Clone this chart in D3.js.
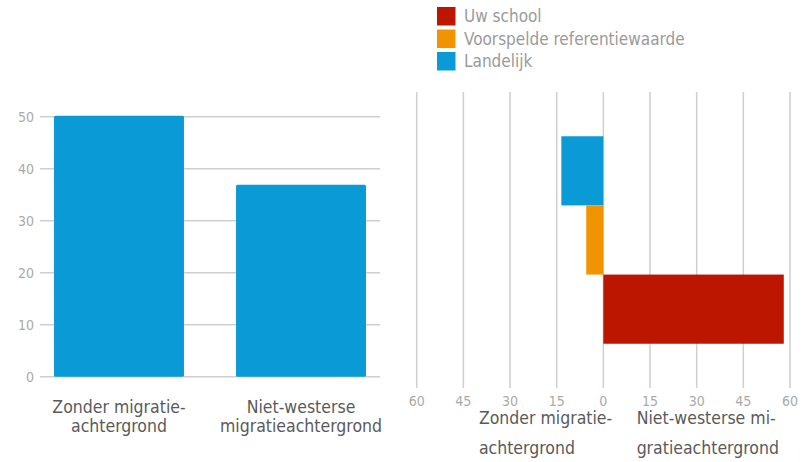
<!DOCTYPE html>
<html lang="nl">
<head>
<meta charset="UTF-8">
<title>Migratieachtergrond</title>
<script src="https://d3js.org/d3.v7.min.js"></script>
<style>
    body { margin: 0; background: #fff; }
    svg { font-family: "Liberation Sans Narrow", "DejaVu Sans Condensed", sans-serif; }
    .grid { stroke: #cfcfcf; stroke-width: 1.5px; }
    .tick-label { fill: #aaaaaa; font-size: 14px; }
    .cat-label { fill: #5a5a5a; font-size: 17.5px; }
    .legend-label { fill: #9a9a9a; font-size: 17px; }
</style>
</head>
<body>
<svg width="801" height="462"></svg>
<script>
    // left chart
    var leftCategories = [["Zonder migratie-", "achtergrond"], ["Niet-westerse", "migratieachtergrond"]];
    var leftValues = [50.2, 36.9];
    var leftTicks = [0, 10, 20, 30, 40, 50];

    // right chart
    var rightSeries = ["Landelijk", "Voorspelde referentiewaarde", "Uw school"];
    var rightValues = [-13.5, -5.5, 58];
    var rightColors = ["#0a9bd7", "#f29400", "#bd1600"];
    var rightTicks = [-60, -45, -30, -15, 0, 15, 30, 45, 60];
    var rightCategories = [["Zonder migratie-", "achtergrond"], ["Niet-westerse mi-", "gratieachtergrond"]];

    // legend
    var legendItems = ["Uw school", "Voorspelde referentiewaarde", "Landelijk"];
    var legendColors = ["#bd1600", "#f29400", "#0a9bd7"];

    var svg = d3.select("svg");

    // ---- left bar chart ----
    var y = d3.scaleLinear().domain([0, 50]).range([376.7, 116.7]);
    var x = d3.scaleBand().domain(leftCategories.map((d, i) => i)).range([40, 380])
        .paddingInner(0.286).paddingOuter(0.077);

    var left = svg.append("g");
    left.selectAll("line.grid").data(leftTicks).enter().append("line")
        .attr("class", "grid")
        .attr("x1", 40).attr("x2", 380)
        .attr("y1", d => y(d)).attr("y2", d => y(d));
    left.selectAll("text.tick-label").data(leftTicks).enter().append("text")
        .attr("class", "tick-label")
        .attr("x", 34).attr("y", d => y(d))
        .attr("dy", "0.35em")
        .style("text-anchor", "end")
        .text(d => d);
    left.selectAll("rect").data(leftValues).enter().append("rect")
        .attr("x", (d, i) => x(i))
        .attr("width", x.bandwidth())
        .attr("y", d => y(d))
        .attr("height", d => y(0) - y(d))
        .attr("rx", 1.5)
        .style("fill", "#0a9bd7");
    left.selectAll("text.cat-label").data(leftCategories).enter().append("text")
        .attr("class", "cat-label")
        .attr("x", (d, i) => x(i) + x.bandwidth() / 2)
        .attr("y", 413)
        .style("text-anchor", "middle")
        .selectAll("tspan").data(d => d).enter().append("tspan")
        .attr("x", function () { return this.parentNode.getAttribute("x"); })
        .attr("y", (d, j) => 413 + j * 19)
        .text(d => d);

    // ---- right diverging chart ----
    var xr = d3.scaleLinear().domain([-60, 60]).range([416.7, 790]);
    var yr = d3.scaleBand().domain(rightSeries).range([92, 388]).paddingOuter(0.64).paddingInner(0);

    var right = svg.append("g");
    right.selectAll("line.grid").data(rightTicks).enter().append("line")
        .attr("class", "grid")
        .attr("x1", d => xr(d)).attr("x2", d => xr(d))
        .attr("y1", 92).attr("y2", 388);
    right.selectAll("text.tick-label").data(rightTicks).enter().append("text")
        .attr("class", "tick-label")
        .attr("x", d => xr(d)).attr("y", 406)
        .style("text-anchor", "middle")
        .text(d => Math.abs(d));
    right.selectAll("rect").data(rightValues).enter().append("rect")
        .attr("x", d => xr(Math.min(0, d)))
        .attr("width", d => Math.abs(xr(d) - xr(0)))
        .attr("y", (d, i) => yr(rightSeries[i]))
        .attr("height", yr.bandwidth())
        .style("fill", (d, i) => rightColors[i]);
    right.selectAll("text.cat-label").data(rightCategories).enter().append("text")
        .attr("class", "cat-label")
        .attr("x", (d, i) => i === 0 ? xr(-40) : xr(10.7))
        .attr("y", 424)
        .selectAll("tspan").data(d => d).enter().append("tspan")
        .attr("x", function () { return this.parentNode.getAttribute("x"); })
        .attr("y", (d, j) => 424 + j * 30)
        .text(d => d);

    // ---- legend ----
    var legend = svg.append("g").attr("transform", "translate(437,7)");
    var item = legend.selectAll("g").data(legendItems).enter().append("g")
        .attr("transform", (d, i) => "translate(0," + i * 22.5 + ")");
    item.append("rect").attr("width", 18.5).attr("height", 18.5)
        .style("fill", (d, i) => legendColors[i]);
    item.append("text").attr("class", "legend-label")
        .attr("x", 27).attr("y", 9.5).attr("dy", "0.35em")
        .text(d => d);
</script>
</body>
</html>
